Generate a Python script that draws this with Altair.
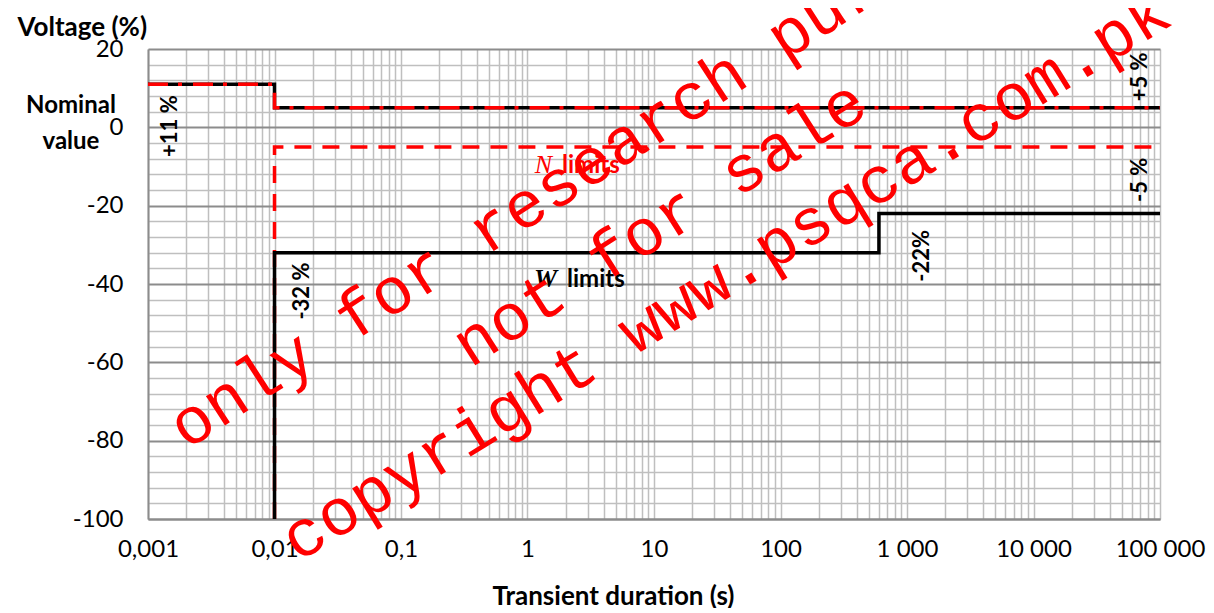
import altair as alt
import pandas as pd

# ---------------- data ----------------
# W limits (black solid)
w_upper_x = [0.001, 0.01, 0.01, 100000]
w_upper_y = [11, 11, 5, 5]
w_lower_x = [0.01, 0.01, 600, 600, 100000]
w_lower_y = [-100, -32, -32, -22, -22]
# N limits (red)
n_upper_x = [0.001, 0.01, 0.01, 100000]
n_upper_y = [11, 11, 5, 5]
n_lower_x = [0.01, 0.01, 100000]
n_lower_y = [-100, -5, -5]

decade_values = [0.001, 0.01, 0.1, 1, 10, 100, 1000, 10000, 100000]
decade_labels = ["0,001", "0,01", "0,1", "1", "10", "100", "1 000", "10 000", "100 000"]
y_min, y_max, y_minor_step, y_major_step = -100, 20, 4, 20

rot_texts = ["+11 %", "+5 %", "-5 %", "-22%", "-32 %"]
rot_x = [0.00149, 69500, 69500, 1315, 0.0165]
rot_y = [0.3, 12.9, -13.4, -32.8, -41.8]

wm_texts = ["only for research purpose", "not for sale", "copyright www.psqca.com.pk"]
wm_x = [3.18, 11.15, 37.1]
wm_y = [-9.36, -24.68, -37.95]
wm_angle = [327, 327.5, 328.4]

# ---------------- tables ----------------
def series(name, xs, ys):
    return pd.DataFrame({"s": name, "x": xs, "y": ys, "o": list(range(len(xs)))})

lines = pd.concat([
    series("W_up", w_upper_x, w_upper_y),
    series("W_low", w_lower_x, w_lower_y),
    series("N_up", n_upper_x, n_upper_y),
    series("N_low", n_lower_x, n_lower_y),
], ignore_index=True)

minor_values = []
for d in decade_values[:-1]:
    for m in range(1, 10):
        minor_values.append(round(d * m, 6))
minor_values.append(decade_values[-1])

y_values = list(range(y_min, y_max + 1, y_minor_step))

label_arr = "[" + ",".join("'%s'" % s for s in decade_labels) + "]"
x_label_expr = (
    "abs(log(datum.value)/LN10 - round(log(datum.value)/LN10)) < 0.001 ? "
    + label_arr + "[round(log(datum.value)/LN10)+3] : ''"
)

FONT = "Lato"

xaxis = alt.Axis(
    values=minor_values, labelExpr=x_label_expr, ticks=False,
    grid=True, gridColor="#bfbfbf", gridWidth=1.5,
    domainColor="#8c8c8c", domainWidth=2,
    labelFont=FONT, labelFontSize=24, labelColor="black", labelPadding=18,
    labelFlush=False, labelOverlap=False,
    title="Transient duration (s)", titleFont=FONT, titleFontSize=26,
    titleFontWeight="bold", titleColor="black",
    titleX=465, titleY=85, titleAnchor="start", titleAlign="center",
    titleBaseline="alphabetic",
)
yaxis = alt.Axis(
    values=y_values,
    labelExpr="datum.value % 20 === 0 ? '' + datum.value : ''",
    ticks=False, grid=True,
    gridColor={"condition": {"test": "datum.value % 20 === 0", "value": "#8c8c8c"}, "value": "#bfbfbf"},
    gridWidth={"condition": {"test": "datum.value % 20 === 0", "value": 2}, "value": 1.5},
    domainColor="#8c8c8c", domainWidth=2,
    labelFont=FONT, labelFontSize=24, labelColor="black", labelPadding=25,
    labelOverlap=False, labelFlush=False,
    title="Voltage (%)", titleFont=FONT, titleFontSize=26, titleFontWeight="bold",
    titleColor="black", titleAngle=0, titleAlign="left", titleBaseline="alphabetic",
    titleX=-131, titleY=-14, titleAnchor="start",
)

xs = alt.Scale(type="log", domain=[decade_values[0], decade_values[-1]])
ys = alt.Scale(domain=[y_min, y_max], nice=False, zero=False)

def enc(ch):
    return ch.encode(
        x=alt.X("x:Q", scale=xs, axis=xaxis),
        y=alt.Y("y:Q", scale=ys, axis=yaxis),
    )

def line_layer(name, color, width, dash=None):
    kw = dict(color=color, strokeWidth=width, clip=False)
    if dash:
        kw["strokeDash"] = dash
    return enc(alt.Chart(lines).transform_filter(alt.datum.s == name).mark_line(**kw)).encode(
        order=alt.Order("o:Q")
    )

l_w_up = line_layer("W_up", "black", 3.5)
l_n_low = line_layer("N_low", "#ff0000", 3.5, [17, 11])
l_w_low = line_layer("W_low", "black", 3.5)
l_n_up = line_layer("N_up", "#ff0000", 3.5, [20, 10, 4, 11])

rot_df = pd.DataFrame({"x": rot_x, "y": rot_y, "t": rot_texts})
rot_layer = enc(alt.Chart(rot_df).mark_text(
    angle=270, font=FONT, fontSize=22, fontWeight="bold", color="black",
    align="center", baseline="middle")).encode(text="t:N")

# limit labels
lim_df = pd.DataFrame({
    "x": [1.562, 1.874, 1.711, 2.052],
    "y": [-11.66, -11.66, -40.76, -40.76],
    "t": ["N", "limits", "W", "limits"],
    "k": ["Nl", "Nr", "Wl", "Wr"],
})
n_letter = enc(alt.Chart(lim_df).transform_filter(alt.datum.k == "Nl").mark_text(
    font="Liberation Serif", fontStyle="italic", fontSize=26, color="#ff0000",
    align="right", baseline="alphabetic")).encode(text="t:N")
n_word = enc(alt.Chart(lim_df).transform_filter(alt.datum.k == "Nr").mark_text(
    font=FONT, fontWeight="bold", fontSize=24, color="#ff0000",
    align="left", baseline="alphabetic")).encode(text="t:N")
w_letter = enc(alt.Chart(lim_df).transform_filter(alt.datum.k == "Wl").mark_text(
    font="Liberation Serif", fontStyle="italic", fontWeight="bold", fontSize=26, color="black",
    align="right", baseline="alphabetic")).encode(text="t:N")
w_word = enc(alt.Chart(lim_df).transform_filter(alt.datum.k == "Wr").mark_text(
    font=FONT, fontWeight="bold", fontSize=24, color="black",
    align="left", baseline="alphabetic")).encode(text="t:N")

nom_df = pd.DataFrame({"x": [0.000246], "y": [5.45], "t": [["Nominal", "value"]]})
nom_layer = enc(alt.Chart(nom_df).mark_text(
    font=FONT, fontWeight="bold", fontSize=24, color="black", lineHeight=36,
    align="center", baseline="middle")).encode(text="t")

wm_df = pd.DataFrame({"x": wm_x, "y": wm_y, "t": wm_texts, "a": wm_angle})
wm_layer = enc(alt.Chart(wm_df).mark_text(
    font="Liberation Mono", fontSize=66, color="#ff0000",
    align="center", baseline="middle")).encode(
    text="t:N", angle=alt.Angle("a:Q", scale=None))

chart = alt.layer(
    l_w_up, l_n_low, l_w_low, l_n_up,
    rot_layer, n_letter, n_word, w_letter, w_word, nom_layer, wm_layer,
).properties(
    width=1012, height=470,
    padding={"left": 140, "top": 41, "right": 46, "bottom": 89},
    autosize=alt.AutoSizeParams(type="none"),
    background="white",
).configure_view(stroke=None)

chart.save("out.html", embed_options={"renderer": "svg", "actions": False})
